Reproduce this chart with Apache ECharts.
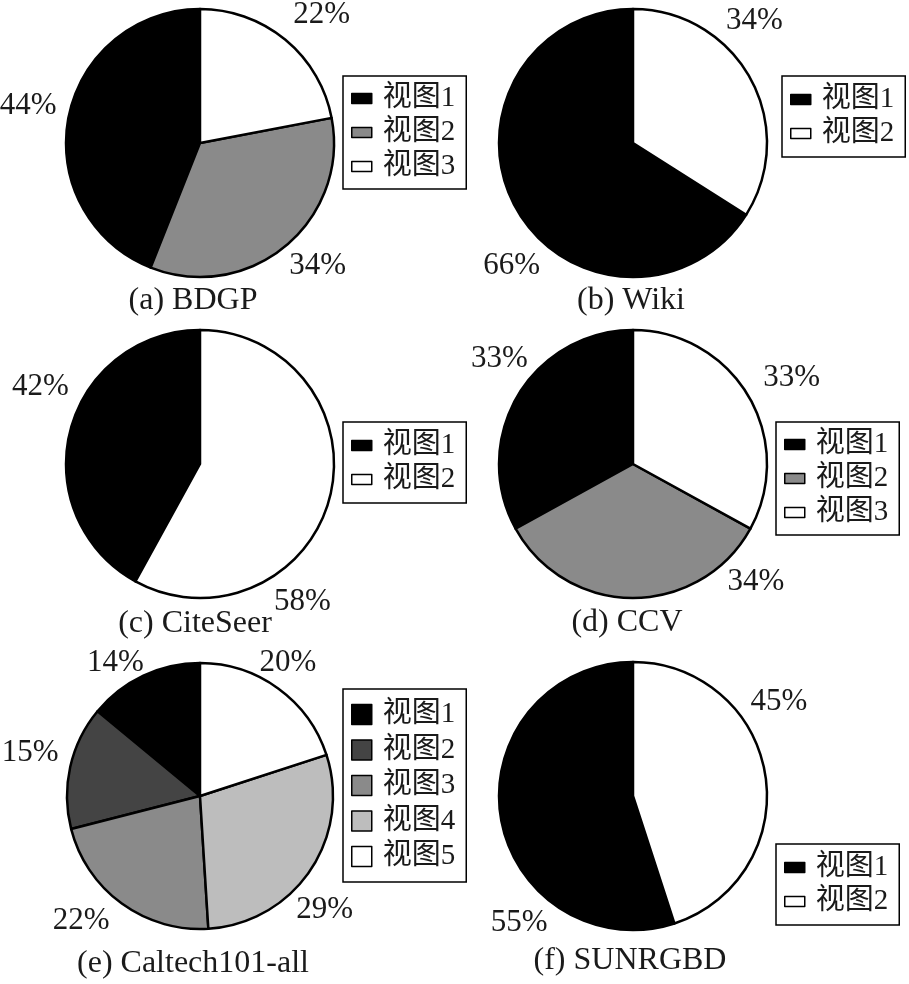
<!DOCTYPE html>
<html>
<head>
<meta charset="utf-8">
<script src="https://cdn.jsdelivr.net/npm/echarts@6/dist/echarts.min.js"></script>
<style>
  html, body { margin: 0; padding: 0; background: #ffffff; }
  #chart { width: 909px; height: 984px; }
</style>
</head>
<body>
<div id="chart"></div>
<script>
// Share of each view (percent) per dataset
const viewNames = ['视图1', '视图2', '视图3', '视图4', '视图5'];
const bdgpShare = [44, 34, 22];
const wikiShare = [66, 34];
const citeseerShare = [42, 58];
const ccvShare = [33, 34, 33];
const caltechShare = [14, 15, 22, 29, 20];
const sunrgbdShare = [55, 45];
const panelTitles = ['(a) BDGP', '(b) Wiki', '(c) CiteSeer', '(d) CCV', '(e) Caltech101-all', '(f) SUNRGBD'];

// grey ramps by number of views
const greys = {
  2: ['#000000', '#ffffff'],
  3: ['#000000', '#8a8a8a', '#ffffff'],
  5: ['#000000', '#444444', '#8a8a8a', '#bdbdbd', '#ffffff']
};

const serif = "'Liberation Serif', 'Times New Roman', serif";
const legendFont = "'Liberation Serif', 'Noto Sans CJK SC', serif";
const ink = '#1a1a1a';

// layout of the six panels
const panels = [
  { values: bdgpShare,     center: [200, 143], r: 134, legendAt: [343, 76],  square: false, titleAt: [193, 285], labelShift: [[0, -4], [6, -12], [10, 7]] },
  { values: wikiShare,     center: [633, 143], r: 134, legendAt: [782, 76],  square: false, titleAt: [631, 285], labelShift: [[32, 39], [-32, -38]] },
  { values: citeseerShare, center: [200, 464], r: 134, legendAt: [343, 422], square: false, titleAt: [195, 608], labelShift: [[10, -34], [-67, 94]] },
  { values: ccvShare,      center: [633, 464], r: 134, legendAt: [776, 422], square: false, titleAt: [627, 607], labelShift: [[17, -16], [123, -57], [8, 3]] },
  { values: caltechShare,  center: [200, 796], r: 133, legendAt: [343, 689], square: true,  titleAt: [193, 948], labelShift: [[-10, 25], [1, -5], [-16, -17], [-20, 15], [-15, 8]] },
  { values: sunrgbdShare,  center: [633, 796], r: 134, legendAt: [776, 844], square: false, titleAt: [630, 945], labelShift: [[59, 99], [-27, -67]] }
];

const series = [];
const legends = [];
const titles = [];

panels.forEach((p, k) => {
  const colors = greys[p.values.length];
  const names = viewNames.slice(0, p.values.length);
  const n = p.values.length;

  // the pie itself
  series.push({
    type: 'pie',
    center: p.center,
    radius: p.r,
    startAngle: 90,
    clockwise: false,
    silent: true,
    animation: false,
    itemStyle: { borderColor: '#000000', borderWidth: 2.5 },
    label: { show: false },
    labelLine: { show: false },
    emphasis: { disabled: true },
    data: p.values.map((v, i) => ({ name: names[i], value: v, itemStyle: { color: colors[i] } }))
  });

  // transparent ring carrying the percentage labels just outside the pie
  const shift = p.labelShift;
  series.push({
    type: 'pie',
    center: p.center,
    radius: [162, 182],
    startAngle: 90,
    clockwise: false,
    silent: true,
    animation: false,
    itemStyle: { color: 'rgba(0,0,0,0)', borderWidth: 0 },
    label: {
      show: true,
      position: 'inside',
      formatter: '{c}%',
      fontFamily: serif,
      fontSize: 31,
      color: ink
    },
    labelLine: { show: false },
    emphasis: { disabled: true },
    labelLayout: (params) => ({ dx: shift[params.dataIndex][0], dy: shift[params.dataIndex][1] }),
    data: p.values.map((v, i) => ({ name: names[i], value: v }))
  });

  const vPad = p.square ? 11 : (n === 2 ? 9 : 8);
  legends.push({
    orient: 'vertical',
    left: p.legendAt[0],
    top: p.legendAt[1],
    selectedMode: false,
    icon: 'rect',
    itemWidth: 20,
    itemHeight: p.square ? 20 : 10,
    itemGap: p.square ? 6.5 : 5,
    padding: [vPad, 11, vPad, 8],
    borderColor: '#000000',
    borderWidth: 1.5,
    backgroundColor: '#ffffff',
    textStyle: { fontFamily: legendFont, fontSize: 29, lineHeight: 26, color: ink, padding: [0, 0, 0, 6] },
    data: names.map((nm, i) => ({
      name: nm,
      itemStyle: { color: colors[i], borderColor: '#000000', borderWidth: 1.5 }
    }))
  });

  titles.push({
    text: panelTitles[k],
    left: p.titleAt[0],
    top: p.titleAt[1],
    textAlign: 'center',
    padding: 0,
    textStyle: { fontFamily: serif, fontSize: 32, fontWeight: 'normal', color: ink, lineHeight: 32 }
  });
});

const chart = echarts.init(document.getElementById('chart'), null, { renderer: 'canvas' });
chart.setOption({
  backgroundColor: '#ffffff',
  animation: false,
  title: titles,
  legend: legends,
  series: series
});
</script>
</body>
</html>
